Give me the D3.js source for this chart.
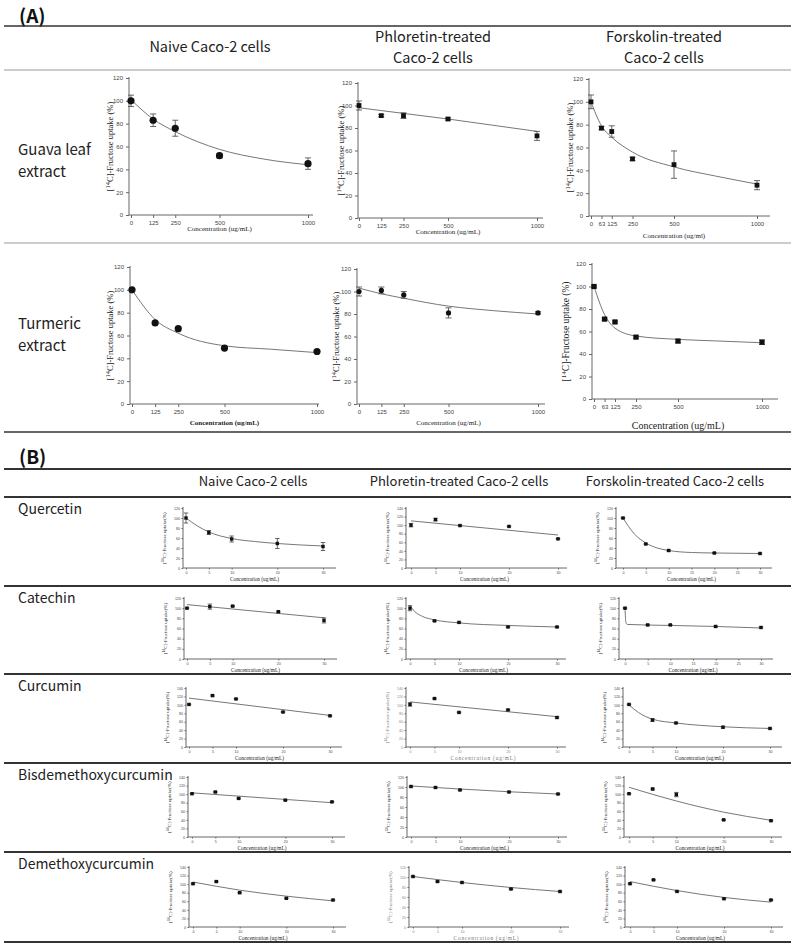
<!DOCTYPE html>
<html><head><meta charset="utf-8">
<script src="https://cdn.jsdelivr.net/npm/d3@7"></script>
<style>
html,body{margin:0;padding:0;background:#fff;}
svg{display:block;}
</style></head>
<body>
<svg id="fig" width="795" height="946"></svg>
<script>
// ---------------- DATA ----------------
const headersA = ["Naive Caco-2 cells", "Phloretin-treated|Caco-2 cells", "Forskolin-treated|Caco-2 cells"];
const headersB = ["Naive Caco-2 cells", "Phloretin-treated Caco-2 cells", "Forskolin-treated Caco-2 cells"];
const rowsA = ["Guava leaf|extract", "Turmeric|extract"];
const rowsB = ["Quercetin", "Catechin", "Curcumin", "Bisdemethoxycurcumin", "Demethoxycurcumin"];

const concA = [0, 125, 250, 500, 1000];
const concA6 = [0, 63, 125, 250, 500, 1000];
const concB = [0, 5, 10, 20, 30];
const ticksA = [0, 125, 250, 500, 1000];
const ticksA6 = [0, 63, 125, 250, 500, 1000];
const ticksB = [0, 5, 10, 20, 30];
const ticksB7 = [0, 5, 10, 15, 20, 25, 30];
const ticksY120 = [0, 20, 40, 60, 80, 100, 120];
const ticksY140 = [0, 20, 40, 60, 80, 100, 120, 140];

// Panel A values (uptake %), error bars, fitted curve
const guavaNaive = [100, 83, 76, 52, 45];
const guavaNaiveErr = [5, 5.5, 7, 2, 5];
const guavaNaiveFitX = [0, 125, 250, 500, 750, 1000];
const guavaNaiveFit = [101, 84, 73, 57.5, 49, 44];

const guavaPhlo = [100, 91, 91, 88, 73];
const guavaPhloErr = [4, 1, 2.5, 1, 4];
const guavaPhloFitX = [0, 125, 250, 500, 750, 1000];
const guavaPhloFit = [98, 95.5, 93, 88, 82.5, 77];

const guavaFors = [100, 77, 74, 50, 45, 27];
const guavaForsErr = [6, 1.5, 5, 1.5, 12, 4];
const guavaForsFitX = [0, 63, 125, 250, 500, 750, 1000];
const guavaForsFit = [100, 79, 69, 56, 43, 35, 28];

const turmNaive = [100, 71, 66, 49, 46];
const turmNaiveErr = [0, 0, 0, 0, 0];
const turmNaiveFitX = [0, 125, 250, 500, 750, 1000];
const turmNaiveFit = [100, 74, 62, 51, 48, 45];

const turmPhlo = [100, 101, 97, 81, 81];
const turmPhloErr = [4, 3, 3, 4.5, 1];
const turmPhloFitX = [0, 125, 250, 500, 750, 1000];
const turmPhloFit = [103, 98, 94, 87, 83, 80];

const turmFors = [100, 71, 68.5, 55, 51.5, 50.5];
const turmForsErr = [1, 1, 1, 1, 1.5, 2];
const turmForsFitX = [0, 63, 125, 250, 500, 750, 1000];
const turmForsFit = [100, 75, 63, 56, 53, 51.5, 50];

// Panel B values
const querNaive = [100, 71, 58, 49, 43];
const querNaiveErr = [10, 4, 6, 10, 8];
const querNaiveFitX = [0, 2.5, 5, 10, 15, 20, 30];
const querNaiveFit = [100, 84, 72, 59, 53, 49, 44];

const querPhlo = [100, 113, 99, 97, 68];
const querPhloErr = [4, 3, 1, 1, 1];
const querPhloFitX = [0, 30];
const querPhloFit = [110, 77];

const querFors = [100, 48, 35, 30, 29];
const querForsErr = [1, 1, 1, 1, 1];
const querForsFitX = [0, 2.5, 5, 7.5, 10, 15, 20, 30];
const querForsFit = [100, 68, 50, 40, 35, 31, 30, 29];

const cateNaive = [100, 103, 104, 93, 76];
const cateNaiveErr = [1, 5, 1, 1, 5];
const cateNaiveFitX = [0, 30];
const cateNaiveFit = [107, 81];

const catePhlo = [100, 75, 72, 63, 63];
const catePhloErr = [5, 1, 1, 1, 1];
const catePhloFitX = [0, 1, 2.5, 5, 10, 20, 30];
const catePhloFit = [105, 93, 84, 77, 71, 66, 63];

const cateFors = [100, 67, 67, 64, 62];
const cateForsErr = [1, 1, 1, 1, 1];
const cateForsFitX = [0, 0.2, 0.5, 10, 20, 30];
const cateForsFit = [100, 72, 68, 66, 64, 61];

const curcNaive = [101, 122, 114, 83, 74];
const curcNaiveErr = [1, 1.5, 1, 1, 1];
const curcNaiveFitX = [0, 30];
const curcNaiveFit = [116, 75];

const curcPhlo = [101, 115, 82, 88, 70];
const curcPhloErr = [4, 1, 1, 1, 1.5];
const curcPhloFitX = [0, 30];
const curcPhloFit = [107, 72];

const curcFors = [101, 64, 57, 47, 44];
const curcForsErr = [1, 3, 1, 2, 1];
const curcForsFitX = [0, 2, 5, 10, 20, 30];
const curcForsFit = [100, 82, 66, 57, 48, 44];

const bdmcNaive = [101, 105, 90, 86, 82];
const bdmcNaiveErr = [1, 1, 1, 1, 1];
const bdmcNaiveFitX = [0, 30];
const bdmcNaiveFit = [103, 80];

const bdmcPhlo = [101, 99, 94, 90, 86];
const bdmcPhloErr = [1, 1, 1, 1, 1];
const bdmcPhloFitX = [0, 10, 20, 30];
const bdmcPhloFit = [102, 96, 90.5, 86];

const bdmcFors = [101, 112, 99, 40, 38];
const bdmcForsErr = [1, 2, 5, 1, 1];
const bdmcForsFitX = [0, 10, 20, 30];
const bdmcForsFit = [116, 84, 58, 39];

const dmcNaive = [101, 106, 80, 67, 63];
const dmcNaiveErr = [1, 1, 1, 1, 1];
const dmcNaiveFitX = [0, 10, 20, 30];
const dmcNaiveFit = [105, 86, 72, 61];

const dmcPhlo = [101, 91, 89, 76, 71];
const dmcPhloErr = [1, 1, 1, 1, 1];
const dmcPhloFitX = [0, 10, 20, 30];
const dmcPhloFit = [101, 89, 79, 71];

const dmcFors = [101, 110, 83, 66, 63];
const dmcForsErr = [1, 1, 1, 1, 1];
const dmcForsFitX = [0, 10, 20, 30];
const dmcForsFit = [106, 85, 69, 58];

// ---------------- DRAWING ----------------
const svg = d3.select("#fig");
svg.append("rect").attr("width", 795).attr("height", 946).attr("fill", "#fff");

const sansKR = "'Noto Sans CJK KR','Noto Sans',sans-serif";
const serif = "'Liberation Serif','DejaVu Serif',serif";
const arial = "'Liberation Sans',Arial,sans-serif";
const intFmt = d3.format("d");

function hline(y, color, w) {
  svg.append("line").attr("x1", 4).attr("x2", 791).attr("y1", y).attr("y2", y)
    .attr("stroke", color).attr("stroke-width", w);
}
function multiText(str, x, y, size, anchor, lh, weight) {
  str.split("|").forEach((p, i) => {
    svg.append("text").attr("x", x).attr("y", y + i * lh)
      .attr("font-family", sansKR).attr("font-size", size).attr("fill", "#222")
      .attr("text-anchor", anchor).attr("font-weight", weight || 400).text(p);
  });
}

// Panel A frame
svg.append("text").attr("x", 19).attr("y", 23).attr("font-family", sansKR)
  .attr("font-size", 19).attr("font-weight", 700).attr("fill", "#111").text("(A)");
hline(26, "#333", 1.5);
multiText(headersA[0], 210, 52, 14.5, "middle", 21);
multiText(headersA[1], 433, 42, 14.5, "middle", 21);
multiText(headersA[2], 664, 42, 14.5, "middle", 21);
hline(70, "#999", 1);
multiText(rowsA[0], 18, 155, 15, "start", 22);
hline(243, "#999", 1);
multiText(rowsA[1], 18, 329, 15, "start", 22);
hline(432, "#333", 1.5);

// Panel B frame
svg.append("text").attr("x", 19).attr("y", 464).attr("font-family", sansKR)
  .attr("font-size", 19).attr("font-weight", 700).attr("fill", "#111").text("(B)");
hline(469, "#333", 2);
[253, 459, 675].forEach((cx, i) => multiText(headersB[i], cx, 486, 13, "middle", 14));
const rowLinesB = [497, 586, 674, 763, 852, 942];
rowLinesB.forEach(y => hline(y, "#333", 2));
rowsB.forEach((r, i) => multiText(r, 18, rowLinesB[i] + 17, 14, "start", 14));

// generic chart
function chart(c) {
  const g = svg.append("g");
  const x = d3.scaleLinear().domain([0, c.xmax]).range([c.x0, c.x1]);
  const y = d3.scaleLinear().domain([0, c.ymax]).range([c.y0, c.yTop]);
  const axCol = "#666";
  // y axis
  const ya = g.append("g").attr("transform", `translate(${c.ax},0)`)
    .call(d3.axisLeft(y).tickValues(c.yticks).tickFormat(intFmt).tickSize(c.tk).tickSizeOuter(0).tickPadding(c.tp));
  ya.select(".domain").attr("stroke", axCol).attr("d", `M0,${c.y0}V${c.yTop - 1}`);
  ya.selectAll(".tick line").attr("stroke", axCol);
  ya.selectAll(".tick text").attr("font-family", arial).attr("font-size", c.fs).attr("fill", c.tcol || "#444");
  // x axis
  const xa = g.append("g").attr("transform", `translate(0,${c.y0})`)
    .call(d3.axisBottom(x).tickValues(c.xticks).tickFormat(intFmt).tickSize(c.tk).tickSizeOuter(0).tickPadding(c.tp));
  xa.select(".domain").attr("stroke", axCol).attr("d", `M${c.ax},0H${c.axEnd}`);
  xa.selectAll(".tick line").attr("stroke", axCol);
  xa.selectAll(".tick text").attr("font-family", arial).attr("font-size", c.fs).attr("fill", c.tcol || "#444");
  // labels
  const ymid = (c.y0 + c.yTop) / 2;
  const yl = g.append("text").attr("transform", `translate(${c.ylx},${ymid}) rotate(-90)`)
    .attr("text-anchor", "middle").attr("font-family", serif).attr("font-size", c.lfs).attr("fill", c.lcol || "#222");
  yl.append("tspan").text("[");
  yl.append("tspan").attr("font-size", c.lfs * 0.75).attr("dy", -c.lfs * 0.35).text("14");
  yl.append("tspan").attr("dy", c.lfs * 0.35).text(c.ytext || "C]-Fructose uptake (%)");
  g.append("text").attr("x", (c.x0 + c.x1) / 2).attr("y", c.xly).attr("text-anchor", "middle")
    .attr("font-family", serif).attr("font-size", c.xfs).attr("font-weight", c.xbold ? 700 : 400)
    .attr("fill", c.lcol || "#222").attr("letter-spacing", c.xls || 0).text(c.xtext || "Concentration (ug/mL)");
  // fit curve
  const pts = c.fitX.map((v, i) => [v, c.fit[i]]);
  g.append("path").attr("d", d3.line().x(d => x(d[0])).y(d => y(d[1])).curve(d3.curveMonotoneX)(pts))
    .attr("fill", "none").attr("stroke", "#777").attr("stroke-width", 1);
  // error bars
  const cw = c.cap;
  c.conc.forEach((v, i) => {
    const e = c.err[i];
    if (e <= 0) return;
    const px = x(v), y1 = y(c.vals[i] + e), y2 = y(c.vals[i] - e);
    g.append("path").attr("d", `M${px},${y1}V${y2}M${px - cw},${y1}H${px + cw}M${px - cw},${y2}H${px + cw}`)
      .attr("stroke", "#555").attr("stroke-width", 0.9).attr("fill", "none");
  });
  // markers
  c.conc.forEach((v, i) => {
    if (c.marker === "circle") {
      g.append("circle").attr("cx", x(v)).attr("cy", y(c.vals[i])).attr("r", c.ms).attr("fill", "#111");
    } else {
      g.append("rect").attr("x", x(v) - c.ms).attr("y", y(c.vals[i]) - c.ms)
        .attr("width", c.ms * 2).attr("height", c.ms * 2).attr("fill", "#111");
    }
  });
}

// ---- Panel A charts ----
const aCommon = {ymax: 120, yticks: ticksY120, tk: 3, tp: 3, fs: 6, lfs: 8.5, xfs: 7, cap: 3};
chart(Object.assign({}, aCommon, {conc: concA, vals: guavaNaive, err: guavaNaiveErr, fitX: guavaNaiveFitX, fit: guavaNaiveFit,
  xmax: 1000, xticks: ticksA, x0: 131, x1: 308, ax: 129, axEnd: 313, y0: 215, yTop: 78, ylx: 113, xly: 231,
  marker: "circle", ms: 3.6}));
chart(Object.assign({}, aCommon, {conc: concA, vals: guavaPhlo, err: guavaPhloErr, fitX: guavaPhloFitX, fit: guavaPhloFit,
  xmax: 1000, xticks: ticksA, x0: 359, x1: 537, ax: 358, axEnd: 543, y0: 218, yTop: 83, ylx: 344, xly: 234,
  marker: "square", ms: 2.4}));
chart(Object.assign({}, aCommon, {conc: concA6, vals: guavaFors, err: guavaForsErr, fitX: guavaForsFitX, fit: guavaForsFit,
  xmax: 1000, xticks: ticksA6, x0: 591, x1: 757, ax: 589, axEnd: 770, y0: 216, yTop: 79, ylx: 573, xly: 238,
  marker: "square", ms: 2.4, xtext: "Concentration (ug/ml)"}));
chart(Object.assign({}, aCommon, {conc: concA, vals: turmNaive, err: turmNaiveErr, fitX: turmNaiveFitX, fit: turmNaiveFit,
  xmax: 1000, xticks: ticksA, x0: 132, x1: 317, ax: 130, axEnd: 319, y0: 404, yTop: 267, ylx: 113, xly: 425,
  marker: "circle", ms: 3.6, xbold: true}));
chart(Object.assign({}, aCommon, {conc: concA, vals: turmPhlo, err: turmPhloErr, fitX: turmPhloFitX, fit: turmPhloFit,
  xmax: 1000, xticks: ticksA, x0: 359, x1: 538, ax: 357, axEnd: 545, y0: 404, yTop: 269, ylx: 339, xly: 425,
  marker: "circle", ms: 2.6}));
chart(Object.assign({}, aCommon, {conc: concA6, vals: turmFors, err: turmForsErr, fitX: turmForsFitX, fit: turmForsFit,
  xmax: 1000, xticks: ticksA6, x0: 594, x1: 762, ax: 592, axEnd: 778, y0: 399, yTop: 264, ylx: 569, xly: 429,
  marker: "square", ms: 2.6, xfs: 10, lfs: 9.5}));

// ---- Panel B charts ----
const bCommon = {xmax: 30, tk: 1.5, tp: 1.5, fs: 3.6, lfs: 5, xfs: 5.3, cap: 2.2, marker: "square", ms: 1.7,
  ytext: "C]-Fructose uptake(%)"};
const rowGeo = [
  {yTop: 508, y0: 568},
  {yTop: 598, y0: 659},
  {yTop: 688, y0: 747},
  {yTop: 777, y0: 837},
  {yTop: 867, y0: 927}
];
const colGeo = [
  [{x0: 186, x1: 323, ax: 183, axEnd: 336}, {x0: 411, x1: 558, ax: 406, axEnd: 567}, {x0: 623, x1: 760, ax: 616, axEnd: 772}],
  [{x0: 187, x1: 324, ax: 184, axEnd: 337}, {x0: 410, x1: 557, ax: 406, axEnd: 566}, {x0: 625, x1: 761, ax: 619, axEnd: 773}],
  [{x0: 189, x1: 330, ax: 186, axEnd: 342}, {x0: 410, x1: 557, ax: 406, axEnd: 566}, {x0: 629, x1: 770, ax: 623, axEnd: 782}],
  [{x0: 192, x1: 332, ax: 188, axEnd: 345}, {x0: 411, x1: 558, ax: 407, axEnd: 567}, {x0: 629, x1: 771, ax: 624, axEnd: 782}],
  [{x0: 193, x1: 333, ax: 189, axEnd: 346}, {x0: 413, x1: 560, ax: 409, axEnd: 569}, {x0: 630, x1: 771, ax: 625, axEnd: 783}]
];
const bSets = [
  [[querNaive, querNaiveErr, querNaiveFitX, querNaiveFit, 120, ticksB],
   [querPhlo, querPhloErr, querPhloFitX, querPhloFit, 140, ticksB],
   [querFors, querForsErr, querForsFitX, querForsFit, 120, ticksB7]],
  [[cateNaive, cateNaiveErr, cateNaiveFitX, cateNaiveFit, 120, ticksB],
   [catePhlo, catePhloErr, catePhloFitX, catePhloFit, 120, ticksB],
   [cateFors, cateForsErr, cateForsFitX, cateForsFit, 120, ticksB7]],
  [[curcNaive, curcNaiveErr, curcNaiveFitX, curcNaiveFit, 140, ticksB],
   [curcPhlo, curcPhloErr, curcPhloFitX, curcPhloFit, 140, ticksB, true],
   [curcFors, curcForsErr, curcForsFitX, curcForsFit, 140, ticksB]],
  [[bdmcNaive, bdmcNaiveErr, bdmcNaiveFitX, bdmcNaiveFit, 140, ticksB],
   [bdmcPhlo, bdmcPhloErr, bdmcPhloFitX, bdmcPhloFit, 120, ticksB],
   [bdmcFors, bdmcForsErr, bdmcForsFitX, bdmcForsFit, 140, ticksB]],
  [[dmcNaive, dmcNaiveErr, dmcNaiveFitX, dmcNaiveFit, 140, ticksB],
   [dmcPhlo, dmcPhloErr, dmcPhloFitX, dmcPhloFit, 120, ticksB, true],
   [dmcFors, dmcForsErr, dmcForsFitX, dmcForsFit, 140, ticksB]]
];
bSets.forEach((row, r) => row.forEach((s, ci) => {
  const geo = Object.assign({}, rowGeo[r], colGeo[r][ci]);
  const light = s[6] === true;
  chart(Object.assign({}, bCommon, geo, {
    conc: concB, vals: s[0], err: s[1], fitX: s[2], fit: s[3], ymax: s[4],
    yticks: s[4] === 140 ? ticksY140 : ticksY120, xticks: s[5], ylx: geo.ax - 17, xly: geo.y0 + 13,
    tcol: light ? "#888" : "#444", lcol: light ? "#777" : "#222", xls: light ? 0.8 : 0
  }));
}));
</script>
</body></html>
